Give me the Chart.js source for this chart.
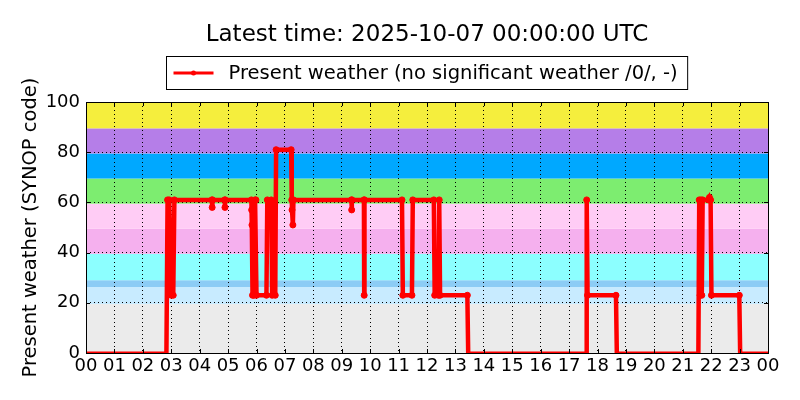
<!DOCTYPE html>
<html>
<head>
<meta charset="utf-8">
<script src="https://cdn.jsdelivr.net/npm/chart.js@4.4.0/dist/chart.umd.min.js"></script>
<style>
  html, body { margin: 0; padding: 0; background: #fff; }
  #wrap { width: 800px; height: 400px; }
</style>
</head>
<body>
<div id="wrap"><canvas id="c" width="800" height="400"></canvas></div>
<script>
// ---- data ----
const TITLE        = 'Latest time: 2025-10-07 00:00:00 UTC';
const SERIES_LABEL = 'Present weather (no significant weather /0/, -)';
const Y_TITLE      = 'Present weather (SYNOP code)';

// observation time (hours since 00 UTC) and SYNOP present weather code
const obsHours = [
  0, 2.83, 2.87, 2.93, 3.00, 3.07, 3.11,
  4.43, 4.44, 4.45, 4.88, 4.89, 4.90,
  5.82, 5.83, 5.84, 5.86, 5.91, 5.95, 5.98, 6.00,
  6.35, 6.38, 6.52, 6.55, 6.66, 6.69,
  7.22, 7.24, 7.25, 7.28, 7.30,
  9.34, 9.35, 9.36, 9.78, 9.79, 9.80,
  11.12, 11.15, 11.47, 11.50, 12.24, 12.27, 12.40, 12.43, 12.46,
  13.42, 13.45, 17.60, 17.62, 17.65, 18.65, 18.68,
  21.55, 21.58, 21.61, 21.64, 21.67, 21.70, 21.90, 21.94, 21.98, 22.01,
  22.99, 23.02, 24
];
const weatherCodes = [
  0, 0, 61, 61, 23, 23, 61,
  61, 58, 61, 61, 58, 61,
  61, 57, 51, 23, 23, 61, 61, 23,
  23, 61, 61, 23, 23, 81,
  81, 61, 57, 51, 61,
  61, 57, 61, 61, 23, 61,
  61, 23, 23, 61, 61, 23, 23, 61, 23,
  23, 0, 0, 61, 23, 23, 0,
  0, 61, 23, 61, 23, 61, 61, 62, 61, 23,
  23, 0, 0
];

// background bands of SYNOP code groups
const bandEdges  = [0, 19.5, 26.3, 29, 39.5, 49.5, 59.5, 69.5, 79.5, 89.5, 100];
const bandColors = ['#ebebeb', '#c8ebff', '#8cccf5', '#8cffff', '#f5b0ee',
                    '#ffccf5', '#7ded70', '#00a8ff', '#b57ee8', '#f5ee3d'];

const FONT = "'DejaVu Sans', sans-serif";
const RED  = '#ff0000';

const pad2 = n => String(n % 24).padStart(2, '0');

// colored bands behind everything
const bandsPlugin = {
  id: 'bands',
  beforeDraw(chart) {
    const { ctx, chartArea: a, scales: { y } } = chart;
    ctx.save();
    bandColors.forEach((col, i) => {
      const top = y.getPixelForValue(bandEdges[i + 1]);
      const bot = y.getPixelForValue(bandEdges[i]);
      ctx.fillStyle = col;
      ctx.fillRect(a.left, top, a.right - a.left, bot - top);
    });
    ctx.restore();
  }
};

// frame, inward ticks, title and the boxed legend (centred on the plot area)
const frameLegendPlugin = {
  id: 'frameLegend',
  afterDraw(chart) {
    const { ctx, chartArea: a, scales: { x, y } } = chart;
    const mid = (a.left + a.right) / 2;
    ctx.save();
    ctx.strokeStyle = '#000';
    ctx.lineWidth = 1;
    ctx.beginPath();
    x.ticks.forEach(t => {
      const px = Math.round(x.getPixelForValue(t.value)) + 0.5;
      ctx.moveTo(px, a.bottom); ctx.lineTo(px, a.bottom - 4);
      ctx.moveTo(px, a.top);    ctx.lineTo(px, a.top + 4);
    });
    y.ticks.forEach(t => {
      const py = Math.round(y.getPixelForValue(t.value)) + 0.5;
      ctx.moveTo(a.left, py);  ctx.lineTo(a.left + 4, py);
      ctx.moveTo(a.right, py); ctx.lineTo(a.right - 4, py);
    });
    ctx.stroke();
    ctx.strokeRect(Math.round(a.left) + 0.5, Math.round(a.top) + 0.5,
                   Math.round(a.right - a.left), Math.round(a.bottom - a.top));

    // title
    ctx.fillStyle = '#000';
    ctx.font = '23px ' + FONT;
    ctx.textAlign = 'center';
    ctx.textBaseline = 'middle';
    ctx.fillText(TITLE, mid, 35);

    // legend
    ctx.textAlign = 'left';
    ctx.font = '19.5px ' + FONT;
    const tw = ctx.measureText(SERIES_LABEL).width;
    const sample = 40, gap = 15, inner = 7;
    const w = inner + sample + gap + tw + 10;
    const h = 33;
    const lx = Math.round(mid - w / 2) + 0.5;
    const ly = 56.5;
    ctx.fillStyle = '#fff';
    ctx.fillRect(lx, ly, w, h);
    ctx.strokeRect(lx, ly, w, h);
    const cy = ly + h / 2;
    ctx.strokeStyle = RED;
    ctx.lineWidth = 3;
    ctx.beginPath();
    ctx.moveTo(lx + inner, cy); ctx.lineTo(lx + inner + sample, cy);
    ctx.stroke();
    ctx.fillStyle = RED;
    ctx.beginPath();
    ctx.arc(lx + inner + sample / 2, cy, 2.5, 0, Math.PI * 2);
    ctx.fill();
    ctx.fillStyle = '#000';
    ctx.fillText(SERIES_LABEL, lx + inner + sample + gap, cy + 1);
    ctx.restore();
  }
};

const isZero = v => v === 0;

new Chart(document.getElementById('c').getContext('2d'), {
  type: 'line',
  data: {
    datasets: [{
      label: SERIES_LABEL,
      data: obsHours.map((h, i) => ({ x: h, y: weatherCodes[i] })),
      borderColor: RED,
      backgroundColor: RED,
      borderWidth: 3,
      tension: 0,
      pointRadius: ctx => isZero(ctx.raw?.y) ? 0 : 3,
      pointBackgroundColor: RED,
      pointBorderColor: RED,
      pointBorderWidth: 1,
      segment: {
        borderWidth: ctx => (isZero(ctx.p0.parsed.y) && isZero(ctx.p1.parsed.y)) ? 3 : 4.5
      }
    }]
  },
  options: {
    responsive: false,
    animation: false,
    layout: { padding: { left: 0, right: 32, top: 102, bottom: 0 } },
    plugins: {
      legend: { display: false },
      tooltip: { enabled: false },
      title: { display: false }
    },
    scales: {
      x: {
        type: 'linear',
        min: 0, max: 24,
        grid: { color: '#000', lineWidth: 1, drawTicks: false },
        border: { display: false, dash: [1, 3] },
        ticks: {
          stepSize: 1, autoSkip: false, maxRotation: 0, padding: 3,
          color: '#000', font: { family: FONT, size: 18 },
          callback: v => pad2(v)
        },
        afterFit: s => { s.height = 47; }
      },
      y: {
        min: 0, max: 100,
        grid: { color: '#000', lineWidth: 1, drawTicks: false },
        border: { display: false, dash: [1, 3] },
        ticks: {
          stepSize: 20, padding: 6,
          color: '#000', font: { family: FONT, size: 18 }
        },
        title: {
          display: true, text: Y_TITLE, color: '#000',
          font: { family: FONT, size: 19.5 },
          padding: { top: 19, bottom: 0 }
        },
        afterFit: s => { s.width = 86; }
      }
    }
  },
  plugins: [bandsPlugin, frameLegendPlugin]
});
</script>
</body>
</html>
